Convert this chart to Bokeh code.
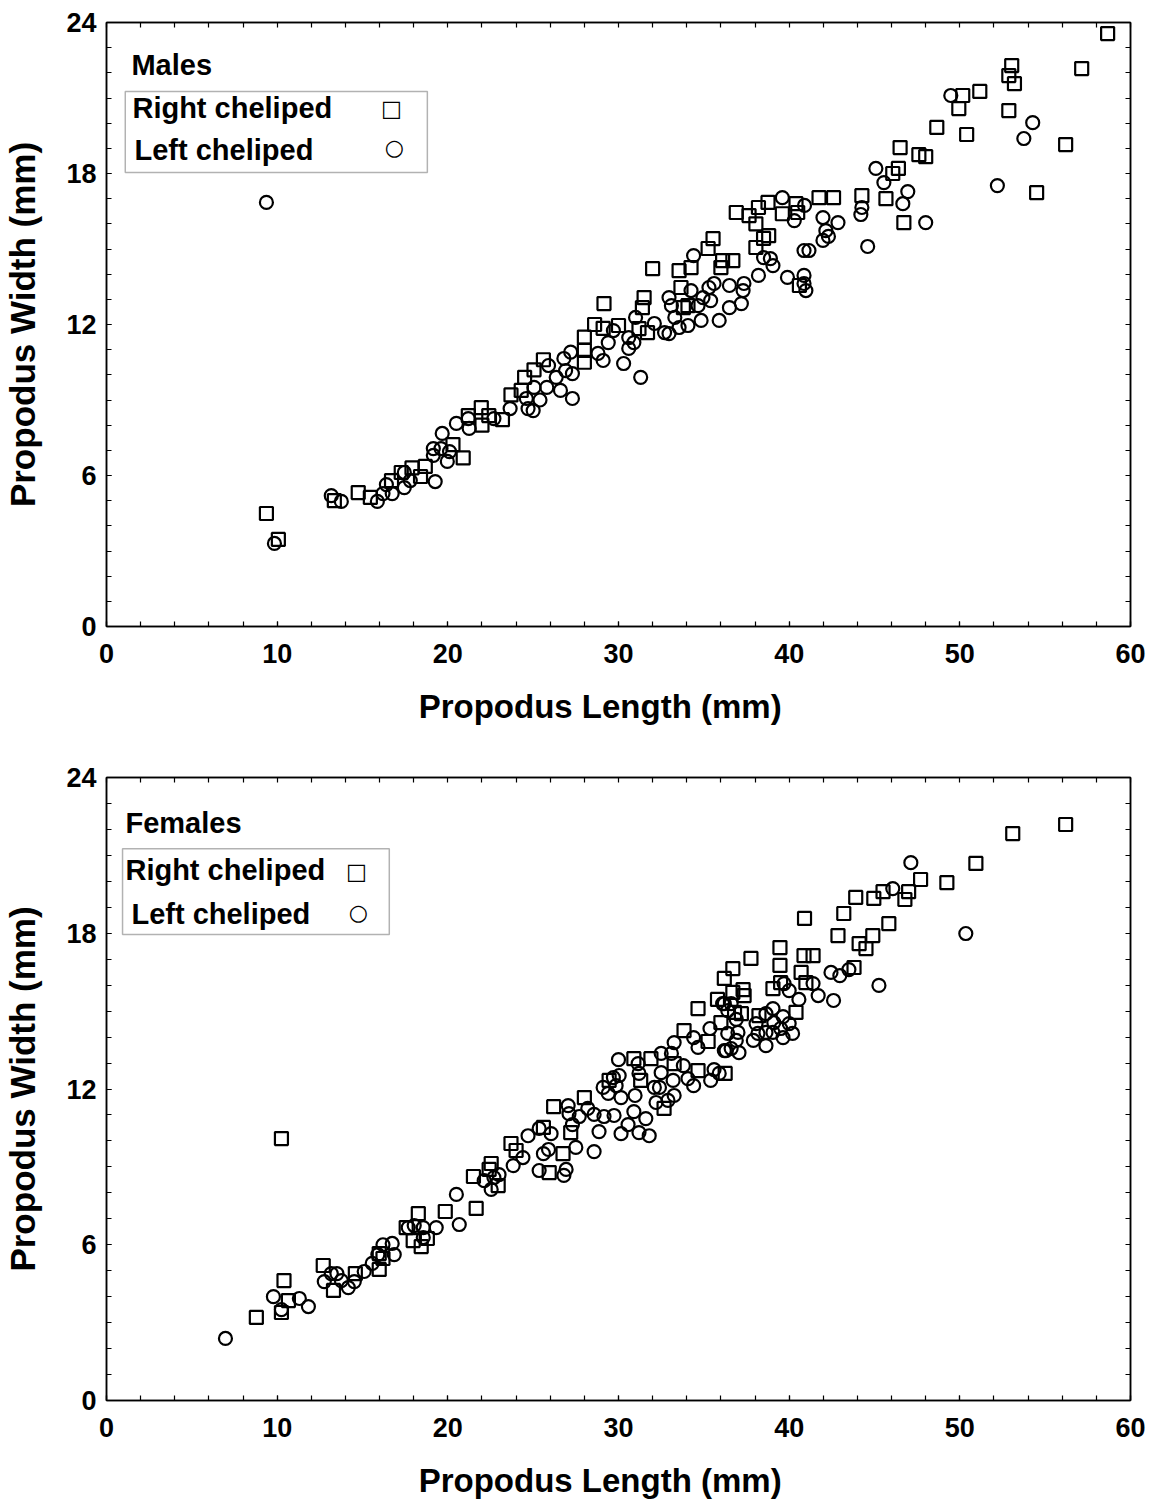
from bokeh.plotting import figure
from bokeh.layouts import column
from bokeh.models import Range1d, FixedTicker, LinearAxis, Label, BoxAnnotation
from bokeh.embed import file_html
from bokeh.resources import INLINE

FONT = "Liberation Sans"

x_ticks = [0, 10, 20, 30, 40, 50, 60]
y_ticks = [0, 6, 12, 18, 24]
x_minor = list(range(0, 61, 2))
y_minor = list(range(0, 25))

x_label = "Propodus Length (mm)"
y_label = "Propodus Width (mm)"
legend_right = "Right cheliped"
legend_left = "Left cheliped"

# ---------------- Males ----------------
males_right_x = [9.37, 10.07, 13.35, 14.75, 15.46, 16.7, 17.27, 17.9, 18.4, 18.68, 20.3, 20.9, 21.2, 21.96, 22.0,
                 22.4, 23.2, 23.7, 24.3, 24.5, 25.05, 25.6, 28.0, 28.0, 28.0, 28.6, 29.1, 29.15, 30.0, 31.2, 31.4,
                 31.5, 31.7, 32.0, 33.55, 33.66, 33.8, 34.07, 34.25, 35.25, 35.54, 36.0, 36.1, 36.7, 36.9, 37.65,
                 38.05, 38.2, 38.76, 38.05, 38.5, 38.8, 39.6, 40.4, 40.5, 40.6, 41.75, 42.6, 44.26, 45.67, 46.07,
                 46.4, 46.5, 46.72, 47.6, 48.0, 48.65, 49.94, 50.17, 50.4, 51.17, 52.87, 52.87, 53.04, 53.2, 54.5,
                 56.2, 57.14, 58.66]
males_right_y = [4.49, 3.46, 5.0, 5.32, 5.13, 5.8, 6.12, 6.3, 5.96, 6.36, 7.23, 6.7, 8.38, 8.7, 8.0,
                 8.38, 8.22, 9.2, 9.38, 9.9, 10.2, 10.6, 10.97, 10.5, 11.5, 12.0, 11.85, 12.83, 11.96, 11.84, 12.67,
                 13.07, 11.68, 14.22, 14.14, 13.47, 12.67, 12.75, 14.26, 15.02, 15.41, 14.26, 14.54, 14.54, 16.45, 16.33,
                 16.0, 16.65, 16.85, 15.06, 15.42, 15.53, 16.4, 16.8, 16.45, 13.55, 17.04, 17.04, 17.12, 17.0, 18.0,
                 18.2, 19.03, 16.05, 18.75, 18.67, 19.83, 20.58, 21.1, 19.55, 21.26, 20.5, 21.89, 22.29, 21.57, 17.24,
                 19.15, 22.17, 23.56]

males_left_x = [9.37, 9.84, 13.17, 13.76, 15.87, 16.2, 16.74, 16.4, 17.45, 17.45, 17.8, 19.26, 19.67, 19.15, 19.6,
                20.1, 19.15, 19.97, 20.5, 21.2, 21.25, 22.7, 23.65, 24.6, 24.7, 25.0, 25.4, 25.05, 25.9, 25.8,
                26.35, 26.8, 26.9, 26.6, 27.2, 27.3, 27.3, 28.8, 29.1, 29.4, 29.7, 30.3, 30.6, 30.6, 30.9, 31.0,
                31.3, 32.1, 32.7, 32.96, 32.96, 33.1, 33.3, 33.55, 34.07, 34.25, 34.4, 34.66, 34.84, 34.95, 35.3,
                35.4, 35.6, 35.9, 36.5, 36.5, 37.2, 37.3, 37.35, 38.5, 38.9, 39.05, 38.2, 39.6, 40.3, 40.9, 41.98,
                42.86, 42.15, 42.3, 41.98, 40.87, 41.16, 39.9, 40.87, 40.87, 40.98, 44.26, 44.2, 44.6, 45.08, 45.55,
                46.95, 46.66, 48.0, 49.47, 52.2, 53.75, 54.27]
males_left_y = [16.85, 3.30, 5.20, 4.97, 4.97, 5.28, 5.28, 5.64, 5.52, 6.12, 5.8, 5.76, 7.67, 7.07, 7.07,
                6.95, 6.8, 6.56, 8.07, 8.26, 7.87, 8.26, 8.66, 9.06, 8.66, 8.58, 9.0, 9.5, 10.37, 9.5,
                9.9, 10.65, 10.17, 9.38, 10.9, 10.05, 9.06, 10.85, 10.57, 11.28, 11.76, 10.45, 11.48, 11.05, 11.28, 12.28,
                9.9, 12.04, 11.68, 11.64, 13.07, 12.75, 12.28, 11.88, 11.96, 13.35, 14.74, 12.75, 12.16, 13.07, 13.47,
                12.95, 13.63, 12.16, 13.55, 12.67, 12.83, 13.35, 13.63, 14.66, 14.62, 14.34, 13.95, 17.04, 16.13, 16.73, 16.25,
                16.05, 15.73, 15.5, 15.34, 14.94, 14.94, 13.87, 13.95, 13.63, 13.35, 16.65, 16.37, 15.1, 18.2, 17.64,
                17.28, 16.8, 16.05, 21.1, 17.52, 19.39, 20.02]

# ---------------- Females ----------------
females_right_x = [8.78, 10.25, 10.4, 10.66, 10.25, 12.7, 13.3, 14.58, 15.98, 15.98, 16.2, 17.56, 18.27, 17.97, 18.44,
                   18.8, 19.85, 21.66, 21.5, 22.54, 22.95, 22.42, 23.7, 24.0, 25.6, 26.75, 25.94, 26.2, 27.2, 28.0,
                   29.45, 30.9, 31.3, 31.9, 32.67, 33.26, 33.84, 34.66, 34.66, 35.25, 36.0, 36.25, 37.76, 36.7, 36.2,
                   36.7, 37.3, 37.36, 35.8, 36.8, 37.2, 38.23, 40.4, 39.05, 39.5, 40.7, 40.98, 39.46, 39.46, 40.87,
                   41.4, 40.9, 43.8, 42.86, 43.2, 44.1, 44.5, 44.9, 45.84, 56.2, 53.1, 50.94, 49.24, 47.7, 47.0,
                   46.78, 45.5, 44.96, 43.9]
females_right_y = [3.2, 3.39, 4.62, 3.85, 10.09, 5.2, 4.24, 4.89, 5.05, 5.66, 5.47, 6.66, 7.2, 6.16, 5.93,
                   6.24, 7.28, 7.4, 8.63, 9.13, 8.28, 8.9, 9.9, 9.63, 10.52, 9.51, 8.78, 11.32, 10.32, 11.67,
                   12.33, 13.17, 12.33, 13.17, 11.25, 12.98, 14.25, 12.71, 15.1, 13.83, 14.56, 12.6, 17.03, 16.64, 16.26,
                   15.72, 15.83, 15.6, 15.45, 14.95, 14.9, 14.83, 14.95, 15.87, 16.1, 16.49, 16.1, 16.76, 17.45, 17.14,
                   17.14, 18.57, 16.68, 17.91, 18.76, 17.6, 17.41, 17.91, 18.37, 22.19, 21.84, 20.69, 19.95, 20.07, 19.6,
                   19.3, 19.6, 19.34, 19.38]

females_left_x = [6.97, 10.25, 9.78, 11.3, 11.83, 12.76, 13.17, 13.5, 13.76, 14.17, 14.52, 15.1, 15.57, 16.2, 15.9,
                  16.74, 16.86, 17.68, 18.03, 18.56, 19.32, 18.56, 20.5, 20.67, 22.13, 22.7, 22.54, 23.0, 23.83, 24.4,
                  24.7, 25.35, 26.05, 25.9, 25.6, 27.5, 25.35, 26.93, 26.8, 28.57, 27.05, 27.1, 27.3, 27.7, 28.2,
                  28.57, 28.86, 29.15, 29.1, 29.4, 29.74, 29.7, 29.86, 30.04, 30.0, 30.15, 30.15, 30.56, 30.97, 30.9,
                  31.15, 31.2, 31.2, 31.8, 31.6, 32.1, 32.5, 32.5, 32.4, 32.2, 32.9, 33.2, 33.26, 33.1, 33.8,
                  33.26, 34.4, 34.07, 34.4, 34.66, 35.36, 35.4, 35.9, 35.6, 36.2, 36.3, 36.4, 36.1, 36.6, 36.4,
                  36.9, 37.0, 36.9, 37.06, 36.6, 36.2, 38.06, 38.17, 37.9, 38.64, 38.64, 38.64, 39.05, 39.1, 39.64,
                  39.64, 40.2, 40.0, 39.5, 39.05, 39.7, 40.0, 40.57, 41.4, 41.7, 42.6, 42.45, 42.97, 43.5, 45.26,
                  47.13, 46.07, 50.35]
females_left_y = [2.39, 3.5, 4.0, 3.93, 3.62, 4.58, 4.89, 4.89, 4.62, 4.35, 4.58, 4.97, 5.28, 6.0, 5.62,
                  6.05, 5.62, 6.66, 6.74, 6.66, 6.66, 6.28, 7.94, 6.78, 8.47, 8.59, 8.13, 8.7, 9.05, 9.36,
                  10.2, 10.48, 10.28, 9.67, 9.51, 9.75, 8.86, 8.9, 8.67, 9.59, 11.36, 11.05, 10.63, 10.94, 11.25,
                  11.02, 10.36, 10.94, 12.06, 11.83, 10.98, 12.44, 12.13, 12.52, 13.13, 11.67, 10.28, 10.63, 11.75, 11.13,
                  12.98, 12.6, 10.32, 10.2, 10.86, 12.06, 13.37, 12.63, 12.06, 11.48, 11.56, 12.33, 11.75, 13.37, 12.9,
                  13.79, 13.98, 12.4, 12.13, 13.6, 14.33, 12.33, 12.6, 12.75, 15.29, 13.48, 14.14, 15.29, 15.29, 15.02,
                  14.68, 14.18, 13.87, 13.4, 13.56, 13.48, 14.52, 14.14, 13.87, 13.67, 14.18, 14.9, 15.1, 14.56, 14.79,
                  13.98, 14.14, 14.52, 14.33, 14.18, 16.06, 15.79, 15.45, 16.06, 15.6, 15.41, 16.49, 16.37, 16.6, 15.99,
                  20.72, 19.72, 17.99]


def style_ticks(ax):
    ax.axis_line_color = "black"
    ax.axis_line_width = 1.5
    ax.major_tick_line_color = "black"
    ax.minor_tick_line_color = "black"
    ax.major_tick_line_width = 1.2
    ax.minor_tick_line_width = 1.2
    ax.major_tick_in = 5
    ax.major_tick_out = 0
    ax.minor_tick_in = 5
    ax.minor_tick_out = 0


def style_labels(ax, label_size):
    ax.major_label_text_font = FONT
    ax.major_label_text_font_style = "bold"
    ax.major_label_text_font_size = "27px"
    ax.major_label_text_color = "black"
    ax.axis_label_text_font = FONT
    ax.axis_label_text_font_style = "bold"
    ax.axis_label_text_font_size = label_size
    ax.axis_label_text_color = "black"


def make_panel(height, b_top, b_bottom, rx, ry, lx, ly, title, box, title_xy, right_xy, left_xy, sq_xy, ci_xy):
    p = figure(width=1150, height=height, x_range=Range1d(0, 60), y_range=Range1d(0, 24),
               output_backend="svg", toolbar_location=None,
               min_border_left=97, min_border_right=20, min_border_top=b_top, min_border_bottom=b_bottom)
    p.background_fill_color = "white"
    p.border_fill_color = "white"
    p.outline_line_color = "black"
    p.outline_line_width = 1.5
    p.xgrid.visible = False
    p.ygrid.visible = False

    p.xaxis.ticker = FixedTicker(ticks=x_ticks, minor_ticks=x_minor)
    p.yaxis.ticker = FixedTicker(ticks=y_ticks, minor_ticks=y_minor)
    # trailing no-break spaces nudge the centred title slightly left, as in the original
    p.xaxis.axis_label = x_label + "\u00a0\u00a0\u00a0\u00a0"
    p.yaxis.axis_label = y_label
    for ax in p.xaxis:
        style_ticks(ax)
        style_labels(ax, "33px")
        ax.major_label_standoff = 17
        ax.axis_label_standoff = 22
    for ax in p.yaxis:
        style_ticks(ax)
        style_labels(ax, "35px")
        ax.major_label_standoff = 10
        ax.axis_label_standoff = 21

    # tick marks only (no labels) on the top and right sides
    top_ax = LinearAxis(ticker=FixedTicker(ticks=[], minor_ticks=x_minor), axis_label=None)
    style_ticks(top_ax)
    p.add_layout(top_ax, "above")
    right_ax = LinearAxis(ticker=FixedTicker(ticks=[], minor_ticks=y_minor), axis_label=None)
    style_ticks(right_ax)
    p.add_layout(right_ax, "right")

    p.scatter(rx, ry, marker="square", size=13, fill_color=None, line_color="black", line_width=2.2)
    p.scatter(lx, ly, marker="circle", size=13, fill_color=None, line_color="black", line_width=2.2)

    # legend decoration
    p.add_layout(BoxAnnotation(left=box[0], right=box[1], top=box[2], bottom=box[3],
                               fill_color="white", fill_alpha=1.0, line_color="black", line_width=1.5))
    for txt, (tx, ty) in ((title, title_xy), (legend_right, right_xy), (legend_left, left_xy)):
        p.add_layout(Label(x=tx, y=ty, text=txt, text_font=FONT, text_font_style="bold",
                           text_font_size="29px", text_baseline="middle", text_align="left", text_color="black"))
    p.add_layout(Label(x=sq_xy[0], y=sq_xy[1], text="\u25a1", text_font="DejaVu Sans", text_font_size="22px",
                       text_baseline="middle", text_align="center", text_color="black"))
    p.add_layout(Label(x=ci_xy[0], y=ci_xy[1], text="\u25cb", text_font="DejaVu Sans", text_font_size="22px",
                       text_baseline="middle", text_align="center", text_color="black"))
    return p


p1 = make_panel(748, 22, 122, males_right_x, males_right_y, males_left_x, males_left_y, "Males",
                (1.1, 18.8, 21.26, 18.04), (1.46, 22.3), (1.52, 20.6), (1.64, 18.95), (16.69, 20.58), (16.86, 19.03))
p2 = make_panel(753, 29, 101, females_right_x, females_right_y, females_left_x, females_left_y, "Females",
                (0.94, 16.57, 21.26, 17.95), (1.11, 22.23), (1.11, 20.42), (1.46, 18.76), (14.64, 20.38), (14.75, 18.8))

layout = column(p1, p2)
open("out.html", "w").write(file_html(layout, INLINE))
